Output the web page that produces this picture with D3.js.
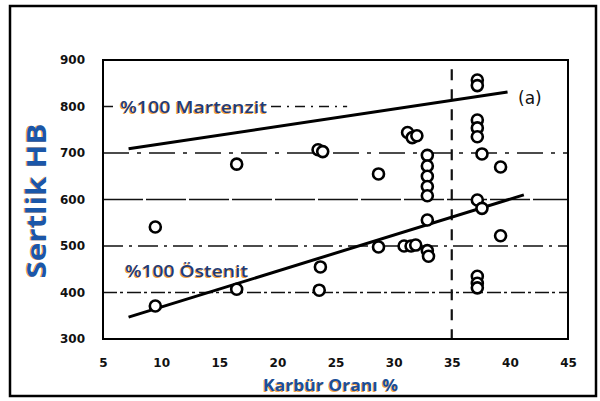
<!DOCTYPE html>
<html>
<head>
<meta charset="utf-8">
<script src="https://cdn.jsdelivr.net/npm/d3@7/dist/d3.min.js"></script>
<style>
  html, body { margin: 0; padding: 0; background: #fff; }
  svg { display: block; }
</style>
</head>
<body>
<script>
// Hardness (HB) against carbide fraction (%)
const carbide = [9.5, 9.5, 16.5, 16.5, 23.5, 23.9, 23.7, 23.6, 28.7, 28.7,
  31.2, 31.6, 32.0, 30.9, 31.5, 31.9, 32.9, 33.0, 32.9,
  32.9, 32.9, 32.9, 32.9, 32.9,
  37.2, 37.2, 37.2, 37.2, 37.2, 37.6, 39.2, 37.2, 37.6, 39.2, 37.2, 37.2, 37.2];
const hardness = [541, 371, 407, 676, 707, 703, 455, 405, 655, 498,
  744, 733, 737, 500, 500, 502, 490, 478, 556,
  695, 672, 650, 628, 608,
  857, 845, 771, 754, 735, 698, 670, 599, 581, 522, 435, 420, 410];

// Trend lines: [x, HB] end points
const martensiteLine = [[7.2, 709], [39.8, 831]];
const austeniteLine = [[7.2, 347], [41.2, 610]];

const xTicks = [5, 10, 15, 20, 25, 30, 35, 40, 45];
const yTicks = [300, 400, 500, 600, 700, 800, 900];
const gridLevels = [400, 500, 600, 700, 800];
const gridDash = ["14,3,3,4", "20,6,3,6", "40,3", "26,8,4,8", "10,6,2,6"];
const gridEnd = [45, 45, 45, 45, 26];

const W = 600, H = 401;
const svg = d3.select("body").append("svg").attr("width", W).attr("height", H);

const x = d3.scaleLinear().domain([5, 45]).range([103, 568]);
const y = d3.scaleLinear().domain([300, 900]).range([339, 60]);

// outer border
svg.append("rect").attr("x", 10).attr("y", 6).attr("width", 586).attr("height", 390)
  .attr("fill", "none").attr("stroke", "#000").attr("stroke-width", 2.5);

// horizontal grid lines
gridLevels.forEach((v, i) => {
  svg.append("line")
    .attr("x1", x(5)).attr("x2", x(gridEnd[i]))
    .attr("y1", y(v)).attr("y2", y(v))
    .attr("stroke", "#111").attr("stroke-width", 1.6)
    .attr("stroke-dasharray", gridDash[i]);
});

// vertical dashed line at 35 %
svg.append("line")
  .attr("x1", x(35)).attr("x2", x(35)).attr("y1", y(880)).attr("y2", y(300))
  .attr("stroke", "#111").attr("stroke-width", 2.2).attr("stroke-dasharray", "11,9");

// plot frame
svg.append("rect").attr("x", x(5)).attr("y", y(900))
  .attr("width", x(45) - x(5)).attr("height", y(300) - y(900))
  .attr("fill", "none").attr("stroke", "#000").attr("stroke-width", 2);

// axes (labels only, frame drawn above)
const fontTick = "'DejaVu Sans', sans-serif";
const yAxis = d3.axisLeft(y).tickValues(yTicks).tickSize(0).tickPadding(18);
const gy = svg.append("g").attr("transform", `translate(${x(5)},0)`).call(yAxis);
gy.select(".domain").remove();
gy.selectAll("text").attr("font-family", fontTick).attr("font-weight", "bold")
  .attr("font-size", 12).attr("fill", "#111");

const xAxis = d3.axisBottom(x).tickValues(xTicks).tickSize(0).tickPadding(19);
const gx = svg.append("g").attr("transform", `translate(0,${y(300)})`).call(xAxis);
gx.select(".domain").remove();
gx.selectAll("text").attr("font-family", fontTick).attr("font-weight", "bold")
  .attr("font-size", 12).attr("fill", "#111");

// trend lines
const line = d3.line().x(d => x(d[0])).y(d => y(d[1]));
[martensiteLine, austeniteLine].forEach(l => {
  svg.append("path").attr("d", line(l)).attr("fill", "none")
    .attr("stroke", "#000").attr("stroke-width", 3);
});

// data points
svg.append("g").selectAll("circle")
  .data(carbide.map((c, i) => [c, hardness[i]]))
  .join("circle")
  .attr("cx", d => x(d[0])).attr("cy", d => y(d[1])).attr("r", 5.5)
  .attr("fill", "#fff").attr("stroke", "#000").attr("stroke-width", 2.6);

// text with a slight orange fringe, optionally on a white patch
function fringed(px, py, str, opts) {
  const g = svg.append("g").attr("transform", `translate(${px},${py})${opts.rotate ? " rotate(-90)" : ""}`);
  if (opts.patch) {
    g.append("rect").attr("x", -2).attr("y", -opts.size + 1)
      .attr("width", opts.len + 4).attr("height", opts.size + 3).attr("fill", "#fff");
  }
  const mk = (dx, dy, fill) => g.append("text")
    .attr("x", dx).attr("y", dy).attr("text-anchor", opts.anchor || "start")
    .attr("font-family", "'Open Sans', sans-serif")
    .attr("font-weight", opts.weight || "normal")
    .attr("font-size", opts.size).attr("fill", fill)
    .attr("textLength", opts.len).attr("lengthAdjust", "spacingAndGlyphs")
    .text(str);
  mk(opts.fx, opts.fy, "#f0a040");
  mk(0, 0, opts.color);
}

fringed(120, 113, "%100 Martenzit", { size: 16, len: 147, color: "#1f3c78", fx: -0.8, fy: 0.6, weight: 600, patch: true });
fringed(125, 277, "%100 Östenit", { size: 16, len: 123, color: "#1f3c78", fx: -0.8, fy: 0.6, weight: 600 });
fringed(46, 201, "Sertlik HB", { size: 26, len: 155, color: "#1b57a8", fx: 0, fy: -1.5, weight: "bold", anchor: "middle", rotate: true });
fringed(263, 391, "Karbür Oranı %", { size: 16, len: 135, color: "#1b4f98", fx: -0.8, fy: 0.5, weight: "bold" });

// panel label
svg.append("text").attr("x", 518).attr("y", 104)
  .attr("font-family", "'DejaVu Sans', sans-serif").attr("font-size", 17)
  .attr("fill", "#111").text("(a)");
</script>
</body>
</html>
